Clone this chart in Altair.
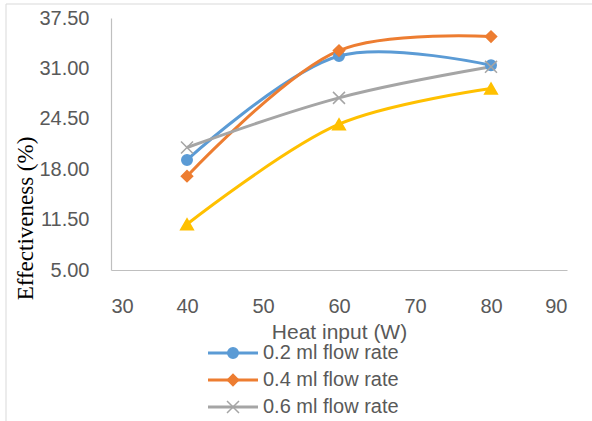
import altair as alt
import pandas as pd

heat_input = [40, 60, 80]
series_names = ["0.2 ml flow rate", "0.4 ml flow rate", "0.6 ml flow rate", "0.8 ml flow rate"]
eff_02 = [19.2, 32.6, 31.4]
eff_04 = [17.1, 33.3, 35.1]
eff_06 = [20.8, 27.2, 31.2]
eff_08 = [10.9, 23.8, 28.4]
x_ticks = [30, 40, 50, 60, 70, 80, 90]
y_ticks = [5.0, 11.5, 18.0, 24.5, 31.0, 37.5]

colors = ["#5B9BD5", "#ED7D31", "#A5A5A5", "#FFC000"]
shapes = ["circle", "diamond", "M-1,-1L1,1M-1,1L1,-1", "triangle-up"]
marker_sizes = [110, 160, 110, 150]

rows = []
for name, vals in zip(series_names, [eff_02, eff_04, eff_06, eff_08]):
    for h, v in zip(heat_input, vals):
        rows.append({"series": name, "heat": h, "eff": v})
df = pd.DataFrame(rows)
leg_df = pd.DataFrame({"series": series_names})

color_scale = alt.Scale(domain=series_names, range=colors)
shape_scale = alt.Scale(domain=series_names, range=shapes)
size_scale = alt.Scale(domain=series_names, range=marker_sizes)

x_enc = alt.X("heat:Q", scale=alt.Scale(domain=[30, 90], nice=False),
              axis=alt.Axis(values=x_ticks, title="Heat input (W)", labelPadding=26,
                            titleY=62, titleBaseline="middle", titleFontSize=21))
y_enc = alt.Y("eff:Q", scale=alt.Scale(domain=[5, 37.5], nice=False, zero=False),
              axis=alt.Axis(values=y_ticks, format=".2f", title="Effectiveness (%)",
                            labelPadding=22, titleX=-86, titleY=200,
                            titleFont="Liberation Serif", titleFontSize=23,
                            titleColor="#000000", titleAlign="center",
                            titleBaseline="middle", titleAngle=-90))
color_enc = alt.Color("series:N", scale=color_scale, legend=None)
stroke_enc = alt.Stroke("series:N", scale=color_scale, legend=None)
shape_enc = alt.Shape("series:N", scale=shape_scale, legend=None)
size_enc = alt.Size("series:N", scale=size_scale, legend=None)

base = alt.Chart(df)
lines = base.mark_line(interpolate="catmull-rom", strokeWidth=3).encode(
    x=x_enc, y=y_enc, color=color_enc)
points = base.mark_point(filled=True, strokeWidth=1.5, opacity=1).encode(
    x=x_enc, y=y_enc, color=color_enc, stroke=stroke_enc, shape=shape_enc, size=size_enc)
main = alt.layer(lines, points)

leg_y = alt.Y("series:N", sort=series_names,
              scale=alt.Scale(type="point", domain=series_names, range=[335, 416], padding=0),
              axis=None)
leg_rule = alt.Chart(leg_df).mark_rule(strokeWidth=3).encode(
    y=leg_y, x=alt.value(97), x2=alt.value(147), color=color_enc)
leg_pt = alt.Chart(leg_df).mark_point(filled=True, strokeWidth=1.5, opacity=1).encode(
    y=leg_y, x=alt.value(122), color=color_enc, stroke=stroke_enc, shape=shape_enc, size=size_enc)
leg_txt = alt.Chart(leg_df).mark_text(align="left", baseline="middle", font="Liberation Sans",
                                      fontSize=20, color="#595959").encode(
    y=leg_y, x=alt.value(152), text="series:N")
legend = alt.layer(leg_rule, leg_pt, leg_txt)

border = alt.Chart(pd.DataFrame({"a": [0]})).mark_rect(
    fill=None, stroke="#d9d9d9", strokeWidth=1).encode(
    x=alt.value(-105), x2=alt.value(620), y=alt.value(-14), y2=alt.value(520))

chart = alt.layer(border, main, legend).resolve_scale(y="independent").properties(
    width=456, height=252,
    padding={"left": 111, "top": 18, "right": 25, "bottom": 151},
    autosize=alt.AutoSizeParams(type="none"),
    background="white",
).configure_view(stroke=None).configure_axis(
    domainColor="#bfbfbf", domainWidth=1.2, ticks=False, grid=False,
    labelFont="Liberation Sans", labelFontSize=20, labelColor="#595959",
    titleFont="Liberation Sans", titleColor="#595959", titleFontWeight="normal",
)

chart.save("out.html", embed_options={"renderer": "svg", "actions": False})
